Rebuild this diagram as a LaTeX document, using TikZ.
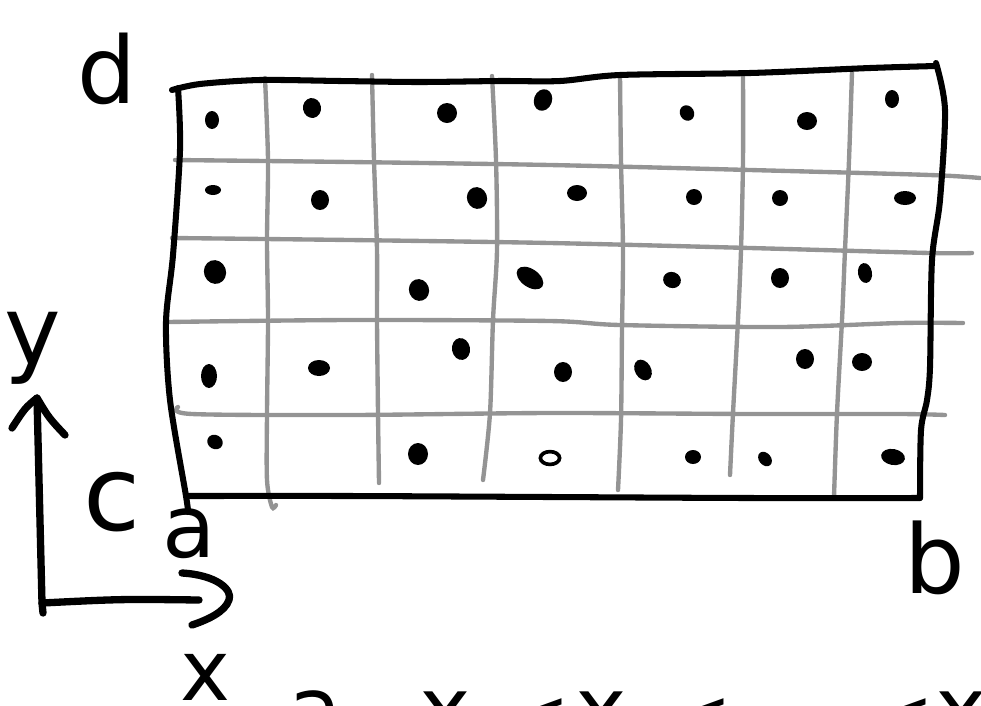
\documentclass[tikz,border=0pt]{standalone}
\usepackage{fontspec}
\setmainfont{DejaVu Sans}
\usetikzlibrary{calc}
\begin{document}
\begin{tikzpicture}[x=0.25mm,y=-0.25mm,
  frame/.style={line width=4.3pt,line cap=round,line join=round},
  axis/.style={line width=5.2pt,line cap=round,line join=round},
  gridl/.style={line width=3.1pt,color=black!42,line cap=round},
  lbl/.style={font=\fontsize{#1}{#1}\selectfont,inner sep=0pt,anchor=base},
  btok/.style={font=\fontsize{#1}{#1}\selectfont,inner sep=0pt,anchor=base west},
]
\useasboundingbox (0,0) rectangle (981,705);
\clip (0,0) rectangle (981,705);

% corners of the region
\coordinate (tl) at (178,88);
\coordinate (tr) at (936,63);
\coordinate (br) at (920,498);
\coordinate (bl) at (186,496);

% gray grid: horizontal
\draw[gridl] plot[smooth] coordinates {(175,160) (350,162) (550,165) (750,170) (930,175) (980,178)};
\draw[gridl] plot[smooth] coordinates {(172,238) (350,240) (550,243) (750,248) (930,253) (972,253)};
\draw[gridl] plot[smooth] coordinates {(167,322) (350,320) (550,321) (620,325) (780,327) (900,323) (963,323)};
\draw[gridl] plot[smooth] coordinates {(178,407) (192,414) (350,415) (550,413) (750,414) (900,414) (945,415)};
% gray grid: vertical
\draw[gridl] plot[smooth] coordinates {(265,78) (268,160) (267,240) (268,320) (267,413) (267,480) (272,507) (276,505)};
\draw[gridl] plot[smooth] coordinates {(372,75) (374,160) (377,250) (377,320) (378,413) (379,483)};
\draw[gridl] plot[smooth] coordinates {(492,76) (496,160) (497,250) (493,320) (490,413) (483,480)};
\draw[gridl] plot[smooth] coordinates {(620,75) (621,160) (623,250) (622,330) (621,420) (618,490)};
\draw[gridl] plot[smooth] coordinates {(743,73) (743,160) (741,250) (738,320) (733,413) (730,475)};
\draw[gridl] plot[smooth] coordinates {(852,72) (849,160) (845,250) (842,320) (837,413) (834,497)};

% black frame
\draw[frame] plot[smooth] coordinates {(172,90) (200,84) (260,80) (340,81) (420,82) (500,81) (560,81) (620,75) (750,73) (870,68) (936,66)};
\draw[frame] plot[smooth] coordinates {(tr) (945,110) (940,200) (932,260) (930,367) (927,400) (921,430) (br)};
\draw[frame] plot[smooth] coordinates {(bl) (350,496) (550,497) (750,498) (br)};
\draw[frame] plot[smooth] coordinates {(tl) (180,150) (173,255) (166,322) (170,400) (186,496) (188,512)};

% dots
\foreach \px/\py/\rx/\ry/\rot in {
  212/120/7/9/0, 312/108/9/10/10, 447/113/10/10/0, 543/100/9/11/-20, 687/113/7/8/30, 807/121/10/9/0, 892/99/7/9/0,
  213/190/8/5/0, 320/200/9/10/0, 477/198/10/11/20, 577/193/10/8/0, 694/197/8/8/0, 780/198/8/8/0, 905/198/11/7/0,
  215/272/11/12/20, 419/290/10/11/20, 530/278/15/9/-35, 672/280/9/8/-20, 780/278/9/10/0, 865/273/7/10/10,
  209/376/8/12/0, 319/368/11/8/0, 461/349/9/11/10, 563/372/9/10/0, 643/370/8/11/30, 805/359/9/10/0, 862/362/10/9/0,
  215/442/8/7/-30, 418/454/10/11/0, 693/457/8/7/0, 765/459/6/8/40, 893/457/12/8/-10}
  \fill[rotate around={\rot:(\px,\py)}] (\px,\py) ellipse [x radius=\rx*0.25mm, y radius=\ry*0.25mm];
\draw[line width=2.6pt,fill=white] (550,458) ellipse [x radius=2.4mm, y radius=1.6mm];

% axes
\coordinate (O) at (42,603);
\coordinate (ytip) at (37,398);
\coordinate (xtip) at (229,600);
\draw[axis] ($(O)+(1,10)$) -- (O) -- (ytip);
\draw[axis] ($(ytip)+(-25,30)$) .. controls ($(ytip)+(-12,10)$) .. (ytip) .. controls ($(ytip)+(12,20)$) .. ($(ytip)+(28,37)$);
\draw[axis] (O) .. controls ($(O)+(80,-4)$) .. ($(xtip)+(-30,0)$);
\draw[axis] ($(xtip)+(-47,-27)$) .. controls ($(xtip)+(-12,-25)$) and ($(xtip)+(4,-10)$) .. (xtip) .. controls ($(xtip)+(-4,12)$) and ($(xtip)+(-22,20)$) .. ($(xtip)+(-37,25)$);

% labels
\node[lbl=66] (ld) at (107,103) {d};
\node[lbl=68] (ly) at (33,364) {y};
\node[lbl=74] (lc) at (112,530) {c};
\node[lbl=62] (la) at (189,557) {a};
\node[lbl=68] (lb) at (935,593) {b};
\node[lbl=60] (lx) at (205,700) {x};

% bottom line (cut off by the picture edge)
\node[btok=62] (b1) at (288,739) {a};
\node[btok=50] (b2) at (350,742) {=};
\node[btok=62] (b3) at (419,739) {x\textsubscript{0}};
\node[btok=50] (b4) at (510,739) {<};
\node[btok=62] (b5) at (575,739) {x\textsubscript{1}};
\node[btok=50] (b6) at (672,739) {<};
\node[btok=62] (b7) at (745,742) {⋯};
\node[btok=50] (b8) at (874,739) {<};
\node[btok=62] (b9) at (935,739) {x\textsubscript{n}};
\end{tikzpicture}
\end{document}
